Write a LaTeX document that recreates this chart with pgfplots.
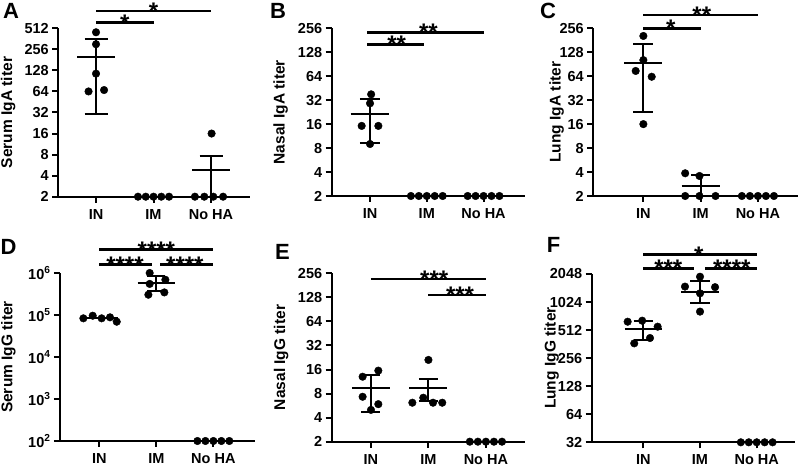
\documentclass[border=0pt]{standalone}
\usepackage{fontspec}
\setmainfont{Liberation Sans}
\usepackage{pgfplots}
\pgfplotsset{compat=1.18}
\pgfplotsset{
  mypanel/.style={
    scale only axis, axis lines=left, axis line style={-, line width=2pt},
    xtick={0,1,2}, xticklabels={IN,IM,No HA},
    every tick/.style={black, line width=2pt}, tick align=outside, major tick length=6pt,
    yminorticks=false, xminorticks=false, clip=false,
    tick label style={font=\fontsize{14.5}{16}\selectfont\bfseries},
    xticklabel style={yshift=-3pt},
    label style={font=\fontsize{15.5}{18}\selectfont\bfseries},
  },
  myylab/.style={ylabel style={at={(axis description cs:#1,0.5)}, anchor=center}},
  mydots/.style={only marks, mark=*, mark size=3.8pt, black, mark options={fill=black, draw=black}},
  mysd/.style={black, line width=2pt, mark=none, unbounded coords=jump},
}
\tikzset{
  sig/.style={black, line width=2.6pt},
  star/.style={font=\fontsize{24}{24}\selectfont\bfseries, anchor=base, inner sep=0pt, yshift=-8.5pt},
  letter/.style={font=\fontsize{22}{22}\selectfont\bfseries, anchor=north west, inner sep=0pt},
}
\begin{document}
\begin{tikzpicture}
\useasboundingbox (0,0) rectangle (800pt,468pt);
% ---------------- A
\begin{axis}[ymode=log, mypanel, at={(58.3pt,271.3pt)}, anchor=south west, width=191.7pt, height=168.4pt,
  xmin=-0.656, xmax=2.678, ymin=2, ymax=512,
  ytick={2,4,8,16,32,64,128,256,512}, yticklabels={2,4,8,16,32,64,128,256,512},
  ylabel={Serum IgA titer}, myylab=-0.261]
\addplot[mydots] coordinates {(0,449) (0,303) (0,115) (-0.13,64) (0.14,67)};
\addplot[mydots] coordinates {(0.73,2) (0.865,2) (1,2) (1.135,2) (1.27,2)};
\addplot[mydots] coordinates {(1.72,2) (1.883,2) (2.04,2) (2.21,2) (2.01,16)};
\addplot[mysd] coordinates {(-0.33,199) (0.33,199) (0,nan) (-0.2,365) (0.2,365) (0,nan) (0,365) (0,30.5) (0,nan) (-0.2,30.5) (0.2,30.5)};
\addplot[mysd] coordinates {(1.67,4.8) (2.33,4.8) (2,nan) (1.8,7.6) (2.2,7.6) (2,nan) (2,7.6) (2,2)};
\draw[sig] (axis cs:0,618) -- (axis cs:1,618);
\draw[sig] (axis cs:0,904) -- (axis cs:2,904);
\node[star] at (axis cs:0.5,618) {*};
\node[star] at (axis cs:1,904) {*};
\end{axis}
% ---------------- B
\begin{axis}[ymode=log, mypanel, at={(331.7pt,272pt)}, anchor=south west, width=193.3pt, height=167.7pt,
  xmin=-0.675, xmax=2.73, ymin=2, ymax=256,
  ytick={2,4,8,16,32,64,128,256}, yticklabels={2,4,8,16,32,64,128,256},
  ylabel={Nasal IgA titer}, myylab=-0.264]
\addplot[mydots] coordinates {(0.02,37.9) (0,29.2) (-0.147,15.2) (0.147,15.2) (0,9.0)};
\addplot[mydots] coordinates {(0.72,2) (0.86,2) (1,2) (1.14,2) (1.28,2)};
\addplot[mydots] coordinates {(1.72,2) (1.86,2) (2,2) (2.14,2) (2.28,2)};
\addplot[mysd] coordinates {(-0.34,21.2) (0.34,21.2) (0,nan) (-0.18,32.7) (0.18,32.7) (0,nan) (0,32.7) (0,9.4) (0,nan) (-0.18,9.4) (0.18,9.4)};
\draw[sig] (axis cs:-0.05,161) -- (axis cs:0.95,161);
\draw[sig] (axis cs:-0.05,227) -- (axis cs:2,227);
\node[star] at (axis cs:0.47,161) {**};
\node[star] at (axis cs:1.03,227) {**};
\end{axis}
% ---------------- C
\begin{axis}[ymode=log, mypanel, at={(593.3pt,272pt)}, anchor=south west, width=204.7pt, height=167.7pt,
  xmin=-0.874, xmax=2.70, ymin=2, ymax=256,
  ytick={2,4,8,16,32,64,128,256}, yticklabels={2,4,8,16,32,64,128,256},
  ylabel={Lung IgA titer}, myylab=-0.179]
\addplot[mydots] coordinates {(0,205) (0,102) (-0.134,74.5) (0.146,63) (0,16)};
\addplot[mydots] coordinates {(0.73,3.86) (0.98,3.57) (0.73,2) (0.98,2) (1.26,2)};
\addplot[mydots] coordinates {(1.72,2) (1.86,2) (2,2) (2.14,2) (2.28,2)};
\addplot[mysd] coordinates {(-0.33,92.9) (0.33,92.9) (0,nan) (-0.175,161) (0.175,161) (0,nan) (0,161) (0,22.9) (0,nan) (-0.175,22.9) (0.175,22.9)};
\addplot[mysd] coordinates {(0.67,2.67) (1.33,2.67) (1,nan) (0.84,3.67) (1.16,3.67) (1,nan) (1,3.67) (1,2)};
\draw[sig] (axis cs:0,256) -- (axis cs:1,256);
\draw[sig] (axis cs:0,375) -- (axis cs:2,375);
\node[star] at (axis cs:0.48,256) {*};
\node[star] at (axis cs:1.02,375) {**};
\end{axis}
% ---------------- D
\begin{axis}[ymode=log, mypanel, at={(60pt,27pt)}, anchor=south west, width=195pt, height=168pt,
  xmin=-0.69, xmax=2.73, ymin=100, ymax=1000000,
  ytick={100,1000,10000,100000,1000000},
  yticklabels={10\textsuperscript{2},10\textsuperscript{3},10\textsuperscript{4},10\textsuperscript{5},10\textsuperscript{6}},
  ylabel={Serum IgG titer}, myylab=-0.265]
\addplot[mysd] coordinates {(-0.33,83000) (0.33,83000)};
\addplot[mydots] coordinates {(-0.28,83400) (-0.116,96100) (0.04,83400) (0.187,88100) (0.305,69200)};
\addplot[mydots] coordinates {(0.883,1000000) (1.158,690000) (0.883,550000) (0.86,304000) (1.14,345000)};
\addplot[mydots] coordinates {(1.72,100) (1.86,100) (2,100) (2.14,100) (2.28,100)};
\addplot[mysd] coordinates {(0.67,576000) (1.33,576000) (1,nan) (0.84,870000) (1.16,870000) (1,nan) (1,870000) (1,380000) (1,nan) (0.84,380000) (1.16,380000)};
\draw[sig] (axis cs:0,1580000) -- (axis cs:0.93,1580000);
\draw[sig] (axis cs:1.07,1580000) -- (axis cs:2,1580000);
\draw[sig] (axis cs:0,3600000) -- (axis cs:2,3600000);
\node[star] at (axis cs:0.45,1580000) {****};
\node[star] at (axis cs:1.5,1580000) {****};
\node[star] at (axis cs:1,3600000) {****};
\end{axis}
% ---------------- E
\begin{axis}[ymode=log, mypanel, at={(331.7pt,26.3pt)}, anchor=south west, width=193.3pt, height=168.4pt,
  xmin=-0.683, xmax=2.68, ymin=2, ymax=256,
  ytick={2,4,8,16,32,64,128,256}, yticklabels={2,4,8,16,32,64,128,256},
  ylabel={Nasal IgG titer}, myylab=-0.262]
\addplot[mydots] coordinates {(-0.145,13.0) (0.128,15.5) (-0.145,7.3) (0.128,5.9) (0,5.0)};
\addplot[mydots] coordinates {(1,21.1) (0.72,6.15) (0.91,7.1) (1.08,6.15) (1.24,6.15)};
\addplot[mydots] coordinates {(1.72,2) (1.86,2) (2,2) (2.14,2) (2.28,2)};
\addplot[mysd] coordinates {(-0.33,9.3) (0.33,9.3) (0,nan) (-0.165,13.8) (0.165,13.8) (0,nan) (0,13.8) (0,4.75) (0,nan) (-0.165,4.75) (0.165,4.75)};
\addplot[mysd] coordinates {(0.67,9.3) (1.33,9.3) (1,nan) (0.835,12.2) (1.165,12.2) (1,nan) (1,12.2) (1,6.5) (1,nan) (0.835,6.5) (1.165,6.5)};
\draw[sig] (axis cs:0,218) -- (axis cs:2,218);
\draw[sig] (axis cs:1,137) -- (axis cs:2,137);
\node[star] at (axis cs:1.1,218) {***};
\node[star] at (axis cs:1.55,137) {***};
\end{axis}
% ---------------- F
\begin{axis}[ymode=log, mypanel, at={(591.7pt,25.7pt)}, anchor=south west, width=203.3pt, height=168.3pt,
  xmin=-0.91, xmax=2.675, ymin=32, ymax=2048,
  ytick={32,64,128,256,512,1024,2048}, yticklabels={32,64,128,256,512,1024,2048},
  ylabel={Lung IgG titer}, myylab=-0.197]
\addplot[mydots] coordinates {(-0.276,630) (-0.02,646) (0.253,557) (0.118,421) (-0.16,369)};
\addplot[mydots] coordinates {(1,1915) (0.735,1500) (1.265,1480) (1,1270) (1,808)};
\addplot[mydots] coordinates {(1.72,32) (1.86,32) (2,32) (2.14,32) (2.28,32)};
\addplot[mysd] coordinates {(-0.33,525) (0.33,525) (0,nan) (-0.17,645) (0.17,645) (0,nan) (0,645) (0,401) (0,nan) (-0.17,401) (0.17,401)};
\addplot[mysd] coordinates {(0.67,1323) (1.33,1323) (1,nan) (0.83,1734) (1.17,1734) (1,nan) (1,1734) (1,993) (1,nan) (0.83,993) (1.17,993)};
\draw[sig] (axis cs:0,3300) -- (axis cs:2,3300);
\draw[sig] (axis cs:0,2350) -- (axis cs:0.9,2350);
\draw[sig] (axis cs:1.09,2350) -- (axis cs:2,2350);
\node[star] at (axis cs:0.98,3300) {*};
\node[star] at (axis cs:0.44,2350) {***};
\node[star] at (axis cs:1.56,2350) {****};
\end{axis}
% ---------------- panel letters
\node[letter] at (3pt,465pt) {A};
\node[letter] at (270pt,465pt) {B};
\node[letter] at (540pt,465pt) {C};
\node[letter] at (0.5pt,229pt) {D};
\node[letter] at (275pt,224pt) {E};
\node[letter] at (546.7pt,231pt) {F};
\end{tikzpicture}
\end{document}
